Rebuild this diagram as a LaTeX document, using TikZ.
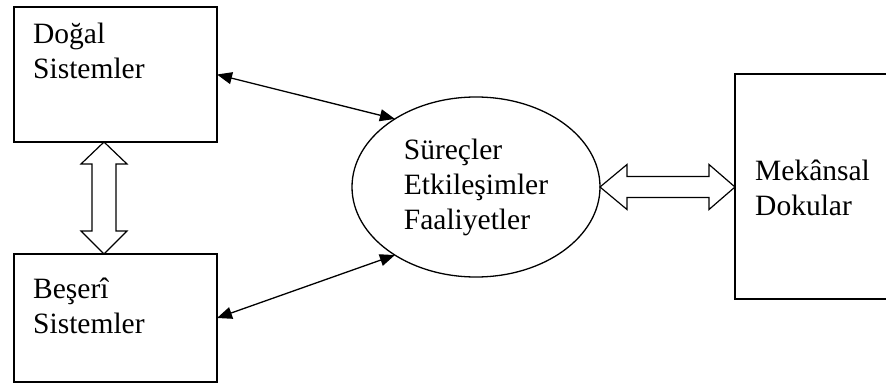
\documentclass[tikz,border=0pt]{standalone}
\usepackage{fontspec}
\setmainfont{Liberation Serif}
\usetikzlibrary{arrows.meta,positioning,calc,shapes.geometric}

\begin{document}
\begin{tikzpicture}[x=1pt,y=-1pt,
  every node/.style={font=\fontsize{29.5}{35}\selectfont},
  kutu/.style={draw,line width=1.3pt,inner sep=0pt,outer sep=0pt,anchor=north west},
  yazi/.style={align=left,inner sep=0pt,anchor=base west},
  ince/.style={{Triangle[length=15pt,width=12pt]}-{Triangle[length=15pt,width=12pt]},line width=1.3pt},
  bos/.style={line width=1.2pt,line join=miter}]
  \useasboundingbox (0,0) rectangle (886,385);
  % kutular
  \node[kutu,minimum width=203,minimum height=135] (dogal) at (14,7) {};
  \node[kutu,minimum width=203,minimum height=128] (beseri) at (14,254) {};
  \node[kutu,minimum width=200,minimum height=225] (mekan) at (735,74) {};
  \node[draw,ellipse,line width=1.3pt,minimum width=248,minimum height=180,inner sep=0pt,outer sep=0pt,align=left] (surec) at (476,187) {Süreçler\\Etkileşimler\\Faaliyetler};
  % yazilar
  \node[yazi] (dogalt) at (33,79) {Doğal\\Sistemler};
  \node[yazi] (beserit) at (33,333) {Beşerî\\Sistemler};
  \node[yazi] (mekant) at (755,215) {Mekânsal\\Dokular};
  % oklar
  \draw[ince] (dogal.east) -- (surec.140);
  \draw[ince] (beseri.east) -- (surec.220);
  \coordinate (ua) at ($(dogal.south west)+(90,0)$);
  \coordinate (ub) at (ua |- beseri.north);
  \draw[bos] (ua) -- ++(23,22) -- ++(-11,0) -- ($(ub)+(12,-23)$) -- ++(11,0) -- (ub)
    -- ++(-23,-23) -- ++(11,0) -- ($(ua)+(-12,22)$) -- ++(-11,0) -- cycle;
  \coordinate (sa) at (surec.east);
  \coordinate (sb) at (sa -| mekan.west);
  \draw[bos] (sa) -- ++(27,-22.5) -- ++(0,12) -- ($(sb)+(-26,-10.5)$) -- ++(0,-12) -- (sb)
    -- ++(-26,22.5) -- ++(0,-12) -- ($(sa)+(27,10.5)$) -- ++(0,12) -- cycle;
\end{tikzpicture}
\end{document}
